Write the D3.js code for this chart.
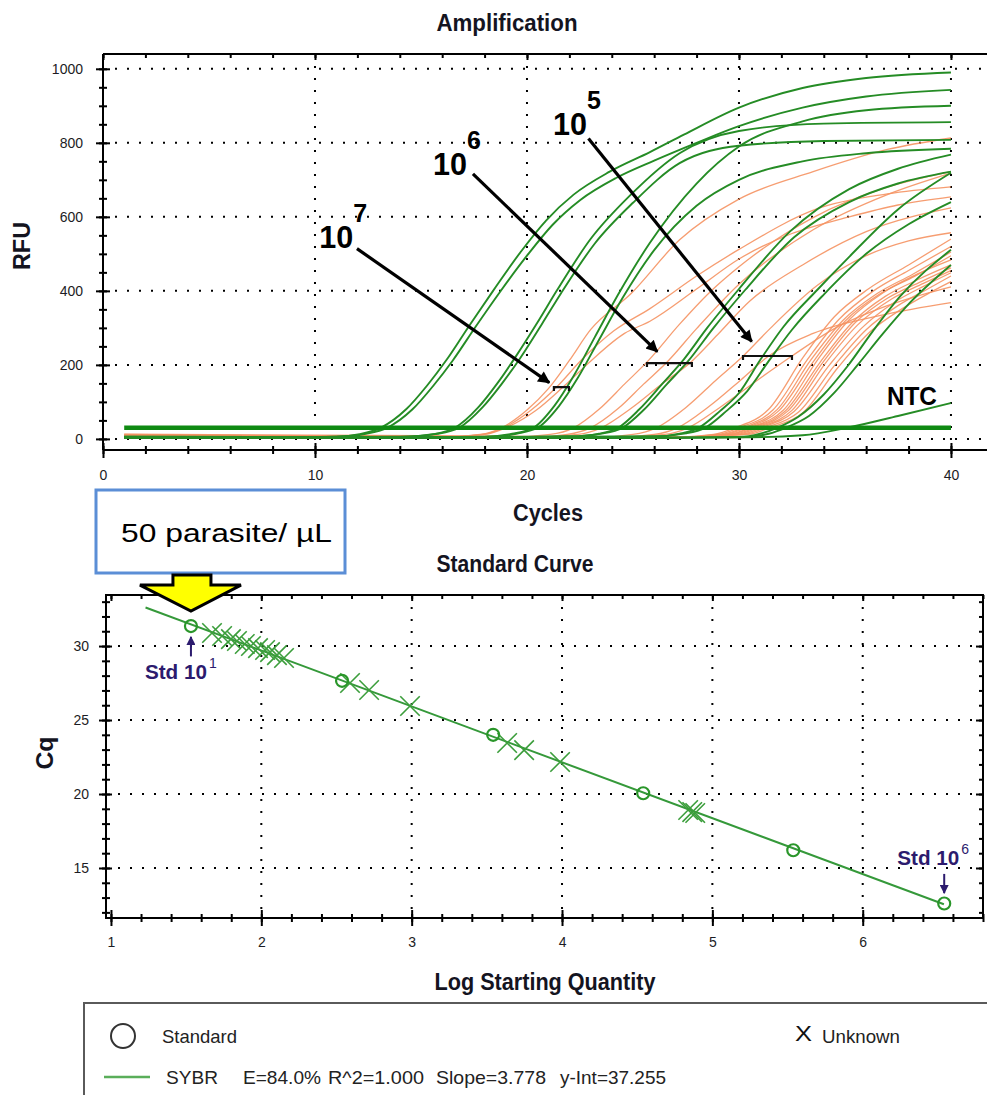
<!DOCTYPE html>
<html>
<head>
<meta charset="utf-8">
<title>Amplification / Standard Curve</title>
<script src="https://cdn.jsdelivr.net/npm/d3@7"></script>
<style>
  body { margin: 0; background: #fff; }
  svg { display: block; font-family: "Liberation Sans", Arial, sans-serif; }
</style>
</head>
<body>
<svg id="chart" width="987" height="1095"></svg>
<script>
// ---- Amplification plot data: every curve is a list of [cycle, RFU] ----
const ampXTicks = [0, 10, 20, 30, 40];
const ampYTicks = [0, 200, 400, 600, 800, 1000];
const threshold = 30;
const thresholdCycles = [1, 40];

// standards (green), two replicates per dilution
const stdCurves = [
  [[1,4],[8,3],[11,6],[12.1,13],[13.1,30],[14.3,80],[15.3,145],[16.2,213],[17.3,308],[18.4,400],[19.7,505],[20.9,590],[22.2,660],[23.9,722],[25.8,775],[27.4,822],[30,895],[33,948],[36,975],[40,990]],
  [[1,5],[8,4],[11,6],[12.4,14],[13.4,30],[14.6,80],[15.6,145],[16.5,212],[17.6,305],[18.7,395],[20,495],[21.2,578],[22.5,645],[24.2,705],[26,752],[28,800],[30,845],[33,895],[36,925],[40,943]],
  [[1,4],[10,3],[14,5],[15.6,13],[16.6,30],[17.7,85],[18.6,150],[19.5,225],[20.5,315],[21.4,400],[23,540],[24.9,660],[27.2,772],[30,832],[34,852],[40,856]],
  [[1,6],[10,5],[14,6],[15.8,14],[16.8,30],[17.9,85],[18.8,148],[19.7,220],[20.7,310],[21.6,393],[23.2,528],[25,638],[27.2,745],[30,792],[34,805],[40,808]],
  [[1,5],[14,4],[18,6],[19.3,14],[20.3,30],[21.3,90],[22.2,170],[23.2,275],[24.3,390],[25.8,530],[28,690],[30,790],[33,858],[36,888],[40,900]],
  [[1,3],[14,3],[18,5],[19.5,14],[20.5,30],[21.5,88],[22.4,165],[23.4,268],[24.5,380],[26,510],[28,630],[30,700],[33,750],[36,772],[40,784]],
  [[1,4],[18,4],[22,6],[23.4,14],[24.3,30],[25.3,80],[26.4,150],[27.4,215],[28.5,300],[30,405],[32.4,560],[35.2,675],[37.5,730],[40,768]],
  [[1,5],[18,5],[22,7],[23.6,15],[24.5,30],[25.5,78],[26.6,148],[27.6,210],[28.8,300],[30.3,403],[32.6,545],[35.2,640],[37.5,690],[40,722]],
  [[1,4],[20,3],[26,6],[27.2,14],[28.1,30],[29.1,75],[30,124],[31,213],[32.1,303],[33.7,403],[35.2,492],[37.5,620],[40,719]],
  [[1,6],[20,5],[26,7],[27.5,15],[28.4,30],[29.4,75],[30.4,130],[31.4,210],[32.5,295],[34,390],[36,500],[38,580],[40,640]],
  [[1,4],[25,3],[30,5],[31,14],[31.8,30],[32.8,60],[34,120],[35.1,195],[36.3,290],[37.6,385],[40,511]],
  [[1,3],[25,2],[30,4],[31.4,14],[32.2,30],[33.3,62],[34.5,125],[35.6,200],[36.8,285],[38.1,370],[40,470]]
];
const ntcCurve = [[1,3],[20,3],[30,4],[33,10],[35.1,30],[37.5,62],[40,97]];

// unknown samples (orange)
const unkCurves = [
  [[1,10],[10,6],[16,5],[17.8,12],[18.8,30],[20,78],[21,135],[22,212],[23,295],[24.9,392],[27.2,538],[30,648],[33.5,722],[37,782],[40,813]],
  [[1,6],[10,4],[16,4],[17.9,12],[18.9,30],[20.2,78],[21.4,140],[22.6,215],[24.1,292],[25.8,352],[28,440],[30,512],[33.7,622],[37,662],[40,681]],
  [[1,12],[10,7],[16,5],[18,12],[19,30],[20.4,76],[21.7,140],[23,210],[24.6,285],[25.8,318],[28,405],[30,486],[32.5,555],[35.2,600],[37.5,632],[40,654]],
  [[1,8],[12,4],[19,4],[21.1,12],[22.2,30],[23.4,80],[24.6,148],[25.7,210],[27.2,310],[28.6,395],[30,465],[33.5,598],[37,680],[40,722]],
  [[1,4],[12,2],[20,3],[21.9,12],[23,30],[24.3,82],[25.5,148],[26.6,207],[28,298],[30,418],[33.5,565],[37,660],[40,718]],
  [[1,10],[12,5],[20,4],[22.4,12],[23.5,30],[24.9,82],[26.4,150],[27.7,206],[29,282],[30.5,372],[33,470],[36,560],[40,624]],
  [[1,5],[15,3],[23,3],[25,12],[26.1,30],[27.5,85],[28.9,158],[30.2,224],[31.5,300],[33.7,415],[36,495],[38,535],[40,557]],
  [[1,9],[15,5],[24,4],[26,12],[27.1,30],[28.6,88],[30.1,160],[31.4,224],[33.5,285],[36.8,335],[40,368]],
  [[1,7],[15,4],[24,3],[26.5,12],[27.6,30],[29.1,85],[30.9,160],[32.5,224],[34.5,298],[37,360],[40,411]],
  [[1,6],[20,4],[27,5],[28.8,12],[29.8,30],[31.4,80],[33,218],[34.5,330],[36.1,405],[38,470],[40,540]],
  [[1,11],[20,6],[27,5],[29,12],[30,30],[31.6,78],[33.2,212],[34.7,322],[36.3,398],[38,455],[40,520]],
  [[1,3],[20,2],[27,3],[29.2,12],[30.2,30],[31.8,79],[33.4,214],[34.9,320],[36.5,392],[38.2,445],[40,505]],
  [[1,8],[20,5],[27,4],[29.35,12],[30.35,30],[31.9,77],[33.5,208],[35,318],[36.6,390],[38.3,440],[40,495]],
  [[1,5],[20,3],[27,4],[29.5,12],[30.5,30],[32.1,78],[33.7,213],[35.2,322],[36.8,395],[38.4,445],[40,484]],
  [[1,13],[20,7],[27,5],[29.6,12],[30.6,30],[32.2,76],[33.8,205],[35.3,312],[36.9,385],[38.5,432],[40,470]],
  [[1,7],[20,4],[27,3],[29.75,12],[30.75,30],[32.3,75],[34,210],[35.5,315],[37,380],[38.6,425],[40,462]],
  [[1,4],[20,2],[27,3],[29.9,12],[30.9,30],[32.5,77],[34.1,206],[35.6,308],[37.2,378],[38.7,420],[40,455]],
  [[1,10],[20,5],[27,4],[30.05,12],[31.05,30],[32.6,74],[34.3,202],[35.8,300],[37.3,368],[38.8,415],[40,449]],
  [[1,6],[20,3],[27,3],[30.25,12],[31.25,30],[32.8,72],[34.5,198],[36,295],[37.5,360],[38.9,405],[40,440]],
  [[1,9],[20,6],[27,4],[30.45,12],[31.45,30],[33,70],[34.7,195],[36.2,290],[37.7,352],[39,395],[40,425]]
];

// ---- Standard curve data ----
const scXTicks = [1, 2, 3, 4, 5, 6];
const scYTicks = [15, 20, 25, 30];
const stdLog = [1.532, 2.537, 3.542, 4.540, 5.538, 6.542];
const stdCq  = [31.35, 27.65, 24.0, 20.05, 16.2, 12.6];
const unkLog = [1.672, 1.739, 1.798, 1.838, 1.89, 1.931, 1.978, 2.025, 2.058, 2.104, 2.151, 2.59, 2.717, 2.989, 3.635, 3.748, 3.987, 4.839, 4.866, 4.886];
const unkCq  = [30.88, 30.68, 30.47, 30.34, 30.14, 30.0, 29.86, 29.73, 29.59, 29.39, 29.19, 27.5, 27.03, 25.95, 23.45, 22.97, 22.16, 18.92, 18.78, 18.72];
const fitSlope = 3.778;
const fitIntercept = 37.255;
const fitEfficiency = "84.0%";
const fitR2 = "1.000";
const fitRange = [1.23, 6.54];

// annotation anchors, in data units of each plot
const dilutionNotes = [
  { exp: "7", at: [10.2, 516], arrow: [[11.98, 514], [21.05, 152]], bracket: [21.27, 21.98, 140] },
  { exp: "6", at: [15.57, 714], arrow: [[17.45, 716], [26.15, 236]], bracket: [25.66, 27.78, 205] },
  { exp: "5", at: [21.23, 822], arrow: [[22.9, 812], [30.6, 263]], bracket: [30.19, 32.5, 224] }
];
const stdNotes = [
  { exp: "1", at: [1.226, 27.77], arrow: [[1.532, 29.3], [1.532, 30.62]] },
  { exp: "6", at: [6.23, 15.2], arrow: [[6.542, 14.6], [6.542, 13.3]] }
];

const GREEN = "#258c25";
const ORANGE = "#f59262";
const NAVY = "#2c1b6e";

const svg = d3.select("#chart");
const defs = svg.append("defs");

function arrowMarker(id, color, w, h) {
  defs.append("marker")
    .attr("id", id)
    .attr("viewBox", "0 0 10 10")
    .attr("refX", 9).attr("refY", 5)
    .attr("markerUnits", "userSpaceOnUse")
    .attr("markerWidth", w).attr("markerHeight", h)
    .attr("orient", "auto")
    .append("path").attr("d", "M0,0 L10,5 L0,10 Z").attr("fill", color);
}
arrowMarker("blackHead", "#000", 17, 12);
arrowMarker("navyHead", NAVY, 11, 9);

function dotted(sel) {
  return sel.attr("stroke", "#000").attr("stroke-width", 2).attr("stroke-dasharray", "2 10");
}

// draws tick marks only (no domain) at the current group position
function tickMarks(g, axisFn, scale, values, size) {
  g.call(axisFn(scale).tickValues(values).tickSize(size).tickSizeOuter(0).tickFormat(""));
  g.select(".domain").remove();
  g.selectAll(".tick line").attr("stroke", "#000").attr("stroke-width", 2);
  return g;
}

function tickLabels(g, axisFn, scale, values, pad) {
  g.call(axisFn(scale).tickValues(values).tickSize(0).tickPadding(pad).tickFormat(d3.format("d")));
  g.select(".domain").remove();
  g.selectAll(".tick text")
    .attr("font-family", "Liberation Sans, Arial, sans-serif")
    .attr("font-size", 14).attr("fill", "#1c1c24");
  return g;
}

function title(x, y, text, width, rotate) {
  const t = svg.append("text")
    .attr("text-anchor", "middle")
    .attr("font-size", 23).attr("font-weight", "bold").attr("fill", "#14141f")
    .attr("textLength", width).attr("lengthAdjust", "spacingAndGlyphs")
    .text(text);
  if (rotate) t.attr("transform", "translate(" + x + "," + y + ") rotate(-90)");
  else t.attr("x", x).attr("y", y);
  return t;
}

// =================== Amplification ===================
const ax = d3.scaleLinear().domain([0, 41.7]).range([103, 987]);
const ay = d3.scaleLinear().domain([-30, 1040]).range([450, 54]);

defs.append("clipPath").attr("id", "ampClip").append("rect")
  .attr("x", ax.range()[0]).attr("y", ay.range()[1])
  .attr("width", ax.range()[1] - ax.range()[0]).attr("height", ay.range()[0] - ay.range()[1]);

const amp = svg.append("g");

// grid
amp.append("g").selectAll("line").data(ampYTicks).join("line")
  .attr("x1", ax(0) + 12).attr("x2", ax.range()[1])
  .attr("y1", d => ay(d)).attr("y2", d => ay(d))
  .call(dotted);
amp.append("g").selectAll("line").data(ampXTicks.slice(1)).join("line")
  .attr("x1", d => ax(d)).attr("x2", d => ax(d))
  .attr("y1", ay.range()[1] + 12).attr("y2", ay.range()[0])
  .call(dotted);

// curves
const ampLine = d3.line().x(d => ax(d[0])).y(d => ay(d[1])).curve(d3.curveMonotoneX);
const curves = amp.append("g").attr("clip-path", "url(#ampClip)");
curves.append("g").selectAll("path").data(unkCurves).join("path")
  .attr("d", ampLine).attr("fill", "none")
  .attr("stroke", ORANGE).attr("stroke-width", 1.3).attr("stroke-opacity", 0.9);
curves.append("g").selectAll("path").data(stdCurves.concat([ntcCurve])).join("path")
  .attr("d", ampLine).attr("fill", "none")
  .attr("stroke", GREEN).attr("stroke-width", 1.9);
curves.append("path")
  .datum(thresholdCycles.map(c => [c, threshold]))
  .attr("d", ampLine).attr("fill", "none")
  .attr("stroke", "#0f8a12").attr("stroke-width", 4.5);

// frame
const ampFrame = amp.append("g").attr("stroke", "#000").attr("stroke-width", 2);
ampFrame.append("line").attr("x1", ax(0)).attr("x2", ax(0)).attr("y1", ay.range()[1]).attr("y2", ay.range()[0]);
ampFrame.append("line").attr("x1", ax(0)).attr("x2", ax.range()[1]).attr("y1", ay.range()[0]).attr("y2", ay.range()[0]);
ampFrame.append("line").attr("x1", ax(0)).attr("x2", ax.range()[1]).attr("y1", ay.range()[1]).attr("y2", ay.range()[1]);

const ampXMinor = d3.range(0, 42, 2);
const ampYMinor = d3.range(0, 1040, 50);
const bottomY = "translate(0," + ay.range()[0] + ")";
const topY = "translate(0," + ay.range()[1] + ")";
const leftX = "translate(" + ax(0) + ",0)";
tickMarks(amp.append("g").attr("transform", bottomY), d3.axisBottom, ax, ampXMinor, 4);
tickMarks(amp.append("g").attr("transform", bottomY), d3.axisTop, ax, ampXMinor, 4);
tickMarks(amp.append("g").attr("transform", bottomY), d3.axisBottom, ax, ampXTicks, 8);
tickMarks(amp.append("g").attr("transform", bottomY), d3.axisTop, ax, ampXTicks, 7);
tickMarks(amp.append("g").attr("transform", topY), d3.axisBottom, ax, ampXMinor, 4);
tickMarks(amp.append("g").attr("transform", topY), d3.axisBottom, ax, ampXTicks, 6);
tickMarks(amp.append("g").attr("transform", leftX), d3.axisLeft, ay, ampYMinor, 4);
tickMarks(amp.append("g").attr("transform", leftX), d3.axisRight, ay, ampYMinor, 4);
tickMarks(amp.append("g").attr("transform", leftX), d3.axisLeft, ay, ampYTicks, 7);
tickMarks(amp.append("g").attr("transform", leftX), d3.axisRight, ay, ampYTicks, 7);
tickLabels(amp.append("g").attr("transform", bottomY), d3.axisBottom, ax, ampXTicks, 20);
tickLabels(amp.append("g").attr("transform", leftX), d3.axisLeft, ay, ampYTicks, 20);

// dilution annotations
const notes = amp.append("g");
dilutionNotes.forEach(n => {
  const x = ax(n.at[0]), y = ay(n.at[1]);
  notes.append("text").attr("x", x).attr("y", y)
    .attr("font-size", 32).attr("font-weight", "bold").attr("textLength", 34).attr("lengthAdjust", "spacingAndGlyphs")
    .text("10");
  notes.append("text").attr("x", x + 34).attr("y", y - 26)
    .attr("font-size", 25).attr("font-weight", "bold")
    .text(n.exp);
  notes.append("line")
    .attr("x1", ax(n.arrow[0][0])).attr("y1", ay(n.arrow[0][1]))
    .attr("x2", ax(n.arrow[1][0])).attr("y2", ay(n.arrow[1][1]))
    .attr("stroke", "#000").attr("stroke-width", 3.2)
    .attr("marker-end", "url(#blackHead)");
  const by = ay(n.bracket[2]);
  notes.append("path")
    .attr("d", "M" + ax(n.bracket[0]) + "," + (by + 4) + "V" + by + "H" + ax(n.bracket[1]) + "V" + (by + 4))
    .attr("fill", "none").attr("stroke", "#111").attr("stroke-width", 2.2);
});
notes.append("text").attr("x", ax(36.98)).attr("y", ay(92))
  .attr("font-size", 26).attr("font-weight", "bold").attr("textLength", 50).attr("lengthAdjust", "spacingAndGlyphs")
  .text("NTC");

title(507, 31, "Amplification", 141);
title(548, 521, "Cycles", 70);
title(30, 246, "RFU", 48, true);

// =================== Standard Curve ===================
const sx = d3.scaleLinear().domain([0.967, 6.80]).range([106, 983]);
const sy = d3.scaleLinear().domain([11.62, 33.45]).range([918, 595]);

const sc = svg.append("g");
sc.append("g").selectAll("line").data(scYTicks).join("line")
  .attr("x1", sx.range()[0] + 12).attr("x2", sx.range()[1] - 4)
  .attr("y1", d => sy(d)).attr("y2", d => sy(d))
  .call(dotted);
sc.append("g").selectAll("line").data(scXTicks.slice(1)).join("line")
  .attr("x1", d => sx(d)).attr("x2", d => sx(d))
  .attr("y1", sy.range()[1] + 12).attr("y2", sy.range()[0])
  .call(dotted);

// fitted line from the reported equation
const fitLine = d3.line().x(d => sx(d)).y(d => sy(fitIntercept - fitSlope * d));
sc.append("path").datum(fitRange).attr("d", fitLine)
  .attr("fill", "none").attr("stroke", "#35993a").attr("stroke-width", 2);

sc.append("g").selectAll("path").data(unkLog).join("path")
  .attr("transform", (d, i) => "translate(" + sx(d) + "," + sy(unkCq[i]) + ")")
  .attr("d", d3.symbol(d3.symbolX, 250))
  .attr("fill", "none").attr("stroke", "#3c9e3c").attr("stroke-width", 1.6);
sc.append("g").selectAll("circle").data(stdLog).join("circle")
  .attr("cx", d => sx(d)).attr("cy", (d, i) => sy(stdCq[i])).attr("r", 6)
  .attr("fill", "none").attr("stroke", "#2a962a").attr("stroke-width", 2.2);

const scFrame = sc.append("g").attr("stroke", "#000").attr("stroke-width", 2).attr("fill", "none");
scFrame.append("rect")
  .attr("x", sx.range()[0]).attr("y", sy.range()[1])
  .attr("width", sx.range()[1] - sx.range()[0]).attr("height", sy.range()[0] - sy.range()[1]);

const scXMinor = d3.range(1, 6.81, 0.2);
const scYMinor = d3.range(12, 34, 1);
const sBottom = "translate(0," + sy.range()[0] + ")";
const sTop = "translate(0," + sy.range()[1] + ")";
const sLeft = "translate(" + sx.range()[0] + ",0)";
const sRight = "translate(" + sx.range()[1] + ",0)";
tickMarks(sc.append("g").attr("transform", sBottom), d3.axisBottom, sx, scXMinor, 4);
tickMarks(sc.append("g").attr("transform", sBottom), d3.axisTop, sx, scXMinor, 4);
tickMarks(sc.append("g").attr("transform", sBottom), d3.axisBottom, sx, scXTicks, 8);
tickMarks(sc.append("g").attr("transform", sBottom), d3.axisTop, sx, scXTicks, 8);
tickMarks(sc.append("g").attr("transform", sTop), d3.axisBottom, sx, scXMinor, 4);
tickMarks(sc.append("g").attr("transform", sTop), d3.axisBottom, sx, scXTicks, 6);
tickMarks(sc.append("g").attr("transform", sLeft), d3.axisLeft, sy, scYMinor, 4);
tickMarks(sc.append("g").attr("transform", sLeft), d3.axisRight, sy, scYMinor, 4);
tickMarks(sc.append("g").attr("transform", sLeft), d3.axisLeft, sy, scYTicks, 7);
tickMarks(sc.append("g").attr("transform", sLeft), d3.axisRight, sy, scYTicks, 6);
tickMarks(sc.append("g").attr("transform", sRight), d3.axisLeft, sy, scYMinor, 4);
tickMarks(sc.append("g").attr("transform", sRight), d3.axisLeft, sy, scYTicks, 7);
tickLabels(sc.append("g").attr("transform", sBottom), d3.axisBottom, sx, scXTicks, 19);
tickLabels(sc.append("g").attr("transform", sLeft), d3.axisLeft, sy, scYTicks, 17);

stdNotes.forEach(n => {
  const x = sx(n.at[0]), y = sy(n.at[1]);
  sc.append("text").attr("x", x).attr("y", y)
    .attr("font-size", 20).attr("font-weight", "bold").attr("fill", NAVY)
    .attr("textLength", 62).attr("lengthAdjust", "spacingAndGlyphs")
    .text("Std 10");
  sc.append("text").attr("x", x + 64).attr("y", y - 11)
    .attr("font-size", 14).attr("fill", NAVY).text(n.exp);
  sc.append("line")
    .attr("x1", sx(n.arrow[0][0])).attr("y1", sy(n.arrow[0][1]))
    .attr("x2", sx(n.arrow[1][0])).attr("y2", sy(n.arrow[1][1]))
    .attr("stroke", NAVY).attr("stroke-width", 2)
    .attr("marker-end", "url(#navyHead)");
});

title(515, 572, "Standard Curve", 157);
title(545, 990, "Log Starting Quantity", 221);
title(53, 753, "Cq", 33, true);

// =================== callout ===================
const call = svg.append("g");
call.append("rect").attr("x", 96).attr("y", 490).attr("width", 249).attr("height", 83)
  .attr("fill", "#fff").attr("stroke", "#5b8ed6").attr("stroke-width", 3);
call.append("text").attr("x", 121).attr("y", 542)
  .attr("font-size", 25).attr("fill", "#000")
  .attr("textLength", 211).attr("lengthAdjust", "spacingAndGlyphs")
  .text("50 parasite/ \u00b5L");
const tipX = sx(stdLog[0]), tipY = sy(stdCq[0]) - 15;
const arrowPts = [
  [tipX - 18, 575], [tipX + 20, 575], [tipX + 20, tipY - 26], [tipX + 50, tipY - 26],
  [tipX, tipY], [tipX - 51, tipY - 26], [tipX - 18, tipY - 26]
];
call.append("polygon").attr("points", arrowPts.map(p => p.join(",")).join(" "))
  .attr("fill", "#ffff00").attr("stroke", "#000").attr("stroke-width", 3)
  .attr("stroke-linejoin", "miter");

// =================== legend ===================
const lg = svg.append("g");
lg.append("rect").attr("x", 84).attr("y", 1003).attr("width", 1000).attr("height", 140)
  .attr("fill", "none").attr("stroke", "#5a5a5a").attr("stroke-width", 2);
lg.append("circle").attr("cx", 123).attr("cy", 1036).attr("r", 12)
  .attr("fill", "none").attr("stroke", "#333").attr("stroke-width", 2);
lg.append("text").attr("x", 162).attr("y", 1043).attr("font-size", 19).attr("fill", "#222")
  .attr("textLength", 75).attr("lengthAdjust", "spacingAndGlyphs").text("Standard");
lg.append("text").attr("x", 795).attr("y", 1041).attr("font-size", 22).attr("fill", "#111")
  .attr("textLength", 17).attr("lengthAdjust", "spacingAndGlyphs").text("X");
lg.append("text").attr("x", 822).attr("y", 1043).attr("font-size", 19).attr("fill", "#222")
  .attr("textLength", 78).attr("lengthAdjust", "spacingAndGlyphs").text("Unknown");
lg.append("line").attr("x1", 104).attr("x2", 150).attr("y1", 1077).attr("y2", 1077)
  .attr("stroke", "#5aae5a").attr("stroke-width", 2.5);
const fitTexts = [
  ["SYBR", 166, 52],
  ["E=" + fitEfficiency, 243, 78],
  ["R^2=" + fitR2, 328, 96],
  ["Slope=" + fitSlope.toFixed(3), 436, 110],
  ["y-Int=" + fitIntercept.toFixed(3), 560, 106]
];
lg.append("g").selectAll("text").data(fitTexts).join("text")
  .attr("x", d => d[1]).attr("y", 1084).attr("font-size", 19).attr("fill", "#222")
  .attr("textLength", d => d[2]).attr("lengthAdjust", "spacingAndGlyphs")
  .text(d => d[0]);
</script>
</body>
</html>
